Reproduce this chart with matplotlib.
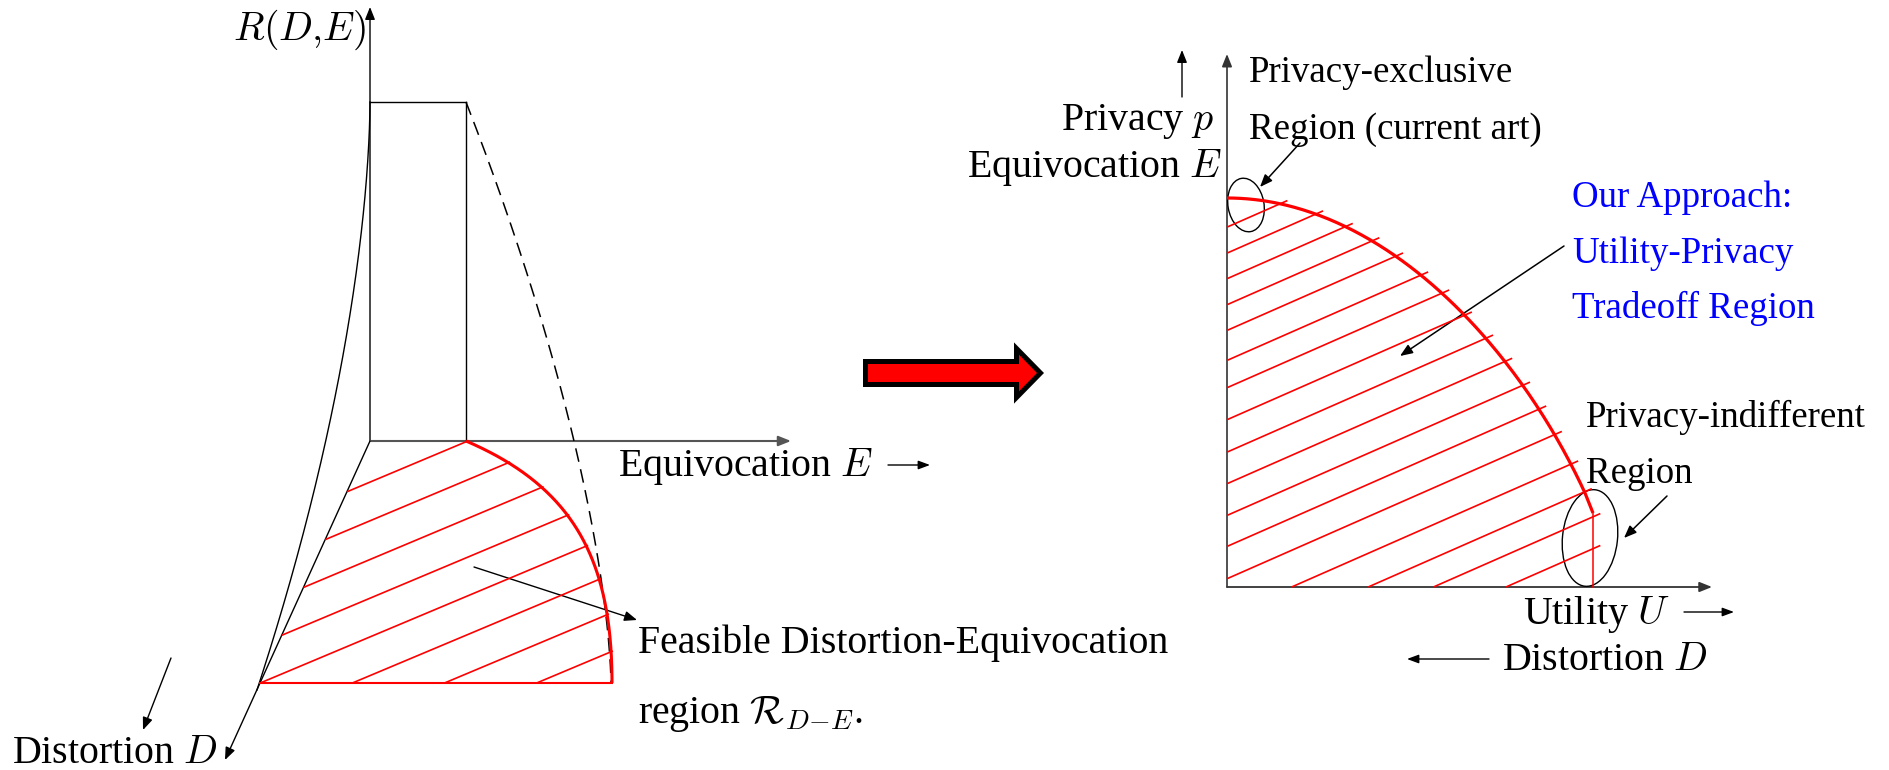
import numpy as np
import matplotlib
matplotlib.use("Agg")
import matplotlib.pyplot as plt
from matplotlib.patches import Ellipse, Polygon, FancyArrowPatch

plt.rcParams["font.family"] = ["Liberation Serif", "DejaVu Serif"]
plt.rcParams["mathtext.fontset"] = "cm"

# ---- text content ----
left_axis_labels = ["$R(D{,}E)$", "Equivocation $E$", "Distortion $D$"]
left_region_caption = ["Feasible Distortion-Equivocation", r"region $\mathcal{R}_{D{-}E}$."]
right_axis_labels = ["Privacy $p$", "Equivocation $E$", "Utility $U$", "Distortion $D$"]
exclusive_caption = ["Privacy-exclusive", "Region (current art)"]
approach_caption = ["Our Approach:", "Utility-Privacy", "Tradeoff Region"]
indifferent_caption = ["Privacy-indifferent", "Region"]

W, H = 1889, 770
BLACK = "#000000"
RED = "#ff0000"
BLUE = "#0000ff"
AXIS_GREY = "#555555"
LABEL_FS = 28.7
NOTE_FS = 26.6

fig = plt.figure(figsize=(W / 100, H / 100), dpi=100)
ax = fig.add_axes([0, 0, 1, 1])
ax.set_xlim(0, W)
ax.set_ylim(H, 0)
ax.axis("off")


def bezier(p0, p1, p2, p3, n=200):
    t = np.linspace(0, 1, n)[:, None]
    p0, p1, p2, p3 = map(np.asarray, (p0, p1, p2, p3))
    return ((1 - t) ** 3 * p0 + 3 * (1 - t) ** 2 * t * p1
            + 3 * (1 - t) * t ** 2 * p2 + t ** 3 * p3)


def arrow(p0, p1, color=BLACK, lw=1.0, hl=7.5, hw=3.0):
    a = FancyArrowPatch(p0, p1, arrowstyle=f"-|>,head_length={hl},head_width={hw}",
                        mutation_scale=1, shrinkA=0, shrinkB=0, color=color, lw=lw)
    ax.add_patch(a)


def hatch(poly, slope, intercepts, extend=0.0, **kw):
    """Parallel lines y = c - slope*x clipped to a polygon (screen coords)."""
    pts = np.asarray(poly)
    a = pts
    b = np.roll(pts, -1, axis=0)
    d = np.array([1.0, -slope]) / np.hypot(1.0, slope)
    for c in intercepts:
        fa = a[:, 1] + slope * a[:, 0] - c
        fb = b[:, 1] + slope * b[:, 0] - c
        hits = []
        for i in range(len(a)):
            if fa[i] == fb[i]:
                continue
            if fa[i] * fb[i] <= 0:
                t = fa[i] / (fa[i] - fb[i])
                hits.append(a[i] + t * (b[i] - a[i]))
        if len(hits) < 2:
            continue
        hits = np.array(hits)
        lo = hits[np.argmin(hits[:, 0])]
        hi = hits[np.argmax(hits[:, 0])] + extend * d
        ax.plot([lo[0], hi[0]], [lo[1], hi[1]], color=kw.get("color", RED),
                lw=kw.get("lw", 1.1), solid_capstyle="butt")


# =================== left panel: 3-D sketch ===================
origin = np.array([370.0, 441.0])
corner = np.array([466.0, 441.0])
top_y = 102.0
base_y = 683.0
d_tip = np.array([225.0, 760.0])

# R axis and box
arrow((370, 441), (370, 7), color=BLACK, lw=1.0)
ax.plot([370, 466], [top_y, top_y], color=BLACK, lw=1.0)
ax.plot([466, 466], [top_y, 441], color=BLACK, lw=1.0)
# E axis
arrow((370, 441), (791, 441), color=AXIS_GREY, lw=1.5)
# D axis
arrow(tuple(origin), tuple(d_tip), color=BLACK, lw=1.0)

# outer rate surface edge
ys = np.linspace(top_y, 690, 200)
s = (ys - top_y) / (690 - top_y)
ax.plot(370 - 113 * s ** 1.7, ys, color=BLACK, lw=1.0)

# dashed surface edge
ys = np.linspace(top_y, base_y, 200)
s = (ys - top_y) / (base_y - top_y)
ax.plot(466 + 145 * (1 - (1 - s) ** 1.56), ys, color=BLACK, lw=1.1,
        linestyle=(0, (9, 5)))

# feasible region in the D-E plane
arc_left = bezier((466, 441), (576, 488), (612, 563), (612, base_y))
d_at_base = origin[0] + (d_tip[0] - origin[0]) * (base_y - origin[1]) / (d_tip[1] - origin[1])
left_poly = np.vstack([origin, arc_left, [[d_at_base, base_y]]])
hatch(left_poly, 0.42, 637.5 + 38.7 * np.arange(8), extend=2, lw=1.2)
ax.plot(arc_left[:, 0], arc_left[:, 1], color=RED, lw=2.2, solid_capstyle="butt")
ax.plot([d_at_base, 612], [base_y, base_y], color=RED, lw=1.5)

# labels
ax.text(233, 40, left_axis_labels[0], fontsize=LABEL_FS, ha="left", va="baseline")
ax.text(618, 476, left_axis_labels[1], fontsize=LABEL_FS, ha="left", va="baseline")
arrow((888, 465), (930, 465), lw=1.0, hl=7, hw=2.6)
ax.text(12, 763, left_axis_labels[2], fontsize=LABEL_FS, ha="left", va="baseline")
arrow((171, 658), (143, 730), lw=1.0)
ax.text(638, 653, left_region_caption[0], fontsize=LABEL_FS, ha="left", va="baseline")
ax.text(638, 723, left_region_caption[1], fontsize=LABEL_FS, ha="left", va="baseline")
arrow((474, 567), (637, 620), lw=1.0)

# =================== transition arrow ===================
big = np.array([[865.5, 361.5], [1016.5, 361.5], [1016.5, 348.5], [1040.5, 373],
                [1016.5, 397.5], [1016.5, 384.5], [865.5, 384.5]])
ax.add_patch(Polygon(big, closed=True, facecolor=RED, edgecolor=BLACK, lw=3.6,
                     joinstyle="miter"))

# =================== right panel: utility-privacy plane ===================
r_origin = (1227.0, 587.0)
arrow(r_origin, (1227, 54), color="#333333", lw=1.2)
arrow(r_origin, (1712, 587), color="#333333", lw=1.3)

curve = bezier((1227, 198), (1377, 198), (1513.6, 338.3), (1585, 493))
right_poly = np.vstack([[r_origin, [1227, 198]], curve, [[1593, 513], [1593, 587]]])
axis_offsets = [226.7, 252.7, 278.3, 304.3, 330, 360, 387.3, 419.3, 451.7, 483.3,
                515, 546, 578.3, 615, 648.7, 677.4, 709.3]
hatch(right_poly, 0.44, [y + 0.44 * 1228 for y in axis_offsets], extend=8, lw=1.2)
ax.plot(np.r_[curve[:, 0], 1593], np.r_[curve[:, 1], 513], color=RED, lw=2.3,
        solid_capstyle="butt")
ax.plot([1593, 1593], [513, 587], color=RED, lw=1.1)

# circled regions
ax.add_patch(Ellipse((1246, 205), 36, 54, angle=-10, fill=False, ec=BLACK, lw=1.0))
ax.add_patch(Ellipse((1590, 538), 55, 97, angle=6, fill=False, ec=BLACK, lw=1.0))
arrow((1300, 143), (1260, 187), lw=1.1)
arrow((1667, 496), (1624, 538), lw=1.1)
arrow((1564, 246), (1400, 356), lw=1.1)

# axis labels
arrow((1182, 97), (1182, 50), lw=1.0)
ax.text(1214, 130, right_axis_labels[0], fontsize=LABEL_FS, ha="right", va="baseline")
ax.text(1222, 177, right_axis_labels[1], fontsize=LABEL_FS, ha="right", va="baseline")
ax.text(1523, 624, right_axis_labels[2], fontsize=LABEL_FS, ha="left", va="baseline")
arrow((1684, 612), (1734, 612), lw=1.0, hl=7, hw=2.6)
ax.text(1502, 670, right_axis_labels[3], fontsize=LABEL_FS, ha="left", va="baseline")
arrow((1489, 659), (1407, 659), lw=1.0, hl=7, hw=2.6)

# region captions
for txt, y in zip(exclusive_caption, [82, 139]):
    ax.text(1249, y, txt, fontsize=NOTE_FS, ha="left", va="baseline")
for txt, y in zip(approach_caption, [207, 263, 318]):
    ax.text(1572, y, txt, fontsize=NOTE_FS, ha="left", va="baseline", color=BLUE)
for txt, y in zip(indifferent_caption, [427, 483]):
    ax.text(1586, y, txt, fontsize=NOTE_FS, ha="left", va="baseline")

fig.savefig("out.png", dpi=100, facecolor="white")
